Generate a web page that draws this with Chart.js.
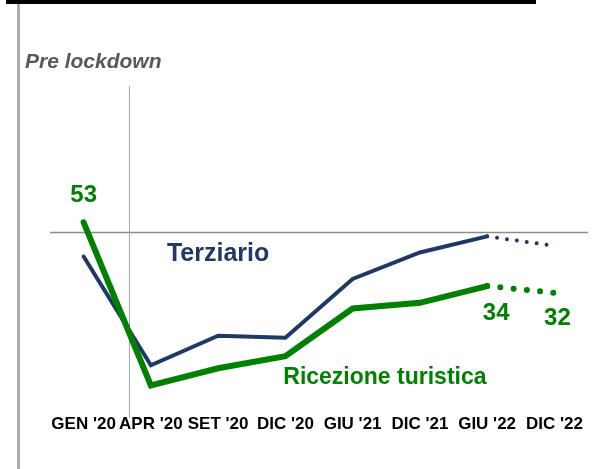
<!DOCTYPE html>
<html>
<head>
<meta charset="utf-8">
<script src="https://cdn.jsdelivr.net/npm/chart.js@4"></script>
<style>
  body { margin: 0; padding: 0; background: #fff; }
  #wrap { width: 600px; height: 469px; }
</style>
</head>
<body>
<div id="wrap"><canvas id="chart" width="600" height="469"></canvas></div>
<script>
// periods on the x axis
const categories = ["GEN '20", "APR '20", "SET '20", "DIC '20", "GIU '21", "DIC '21", "GIU '22", "DIC '22"];

// observed values (solid lines)
const terziario = [42.8, 10.4, 19.2, 18.6, 36.1, 44, 48.8, null];
const ricezione = [53, 4.4, 9.5, 13.1, 27.3, 29, 34, null];

// forecast values (dotted lines)
const terziarioForecast = [null, null, null, null, null, null, 48.8, 46];
const ricezioneForecast = [null, null, null, null, null, null, 34, 32];

// reference level before the lockdown
const preLockdownLevel = 50;
// position of the lockdown marker between GEN '20 and APR '20
const lockdownAt = 0.67;
// points of "Ricezione turistica" that get a value label
const labelledPoints = [0, 6, 7];

const NAVY = '#203864';
const GREEN = '#008000';
const FONT = "'Liberation Sans', Arial, sans-serif";

// background decorations + reference lines (drawn under the series)
const backdrop = {
  id: 'backdrop',
  beforeDatasetsDraw(chart) {
    const { ctx, chartArea, scales } = chart;
    const x = scales.x, y = scales.y;
    ctx.save();
    // black bar on top
    ctx.fillStyle = '#000';
    ctx.fillRect(6, 0, 530, 4);
    // grey rule on the left
    ctx.fillStyle = '#ababab';
    ctx.fillRect(17, 4, 3, 465);
    // "Pre lockdown"
    ctx.fillStyle = '#595959';
    ctx.font = 'italic bold 21px ' + FONT;
    ctx.textBaseline = 'alphabetic';
    ctx.fillText('Pre lockdown', 25, 68);
    // pre lockdown level
    const yl = Math.round(y.getPixelForValue(preLockdownLevel)) + 0.5;
    ctx.strokeStyle = '#8c8c8c';
    ctx.lineWidth = 1.5;
    ctx.beginPath();
    ctx.moveTo(chartArea.left, yl);
    ctx.lineTo(chartArea.right, yl);
    ctx.stroke();
    // lockdown marker
    const xl = Math.round(x.getPixelForValue(lockdownAt)) + 0.5;
    ctx.strokeStyle = '#97a9c8';
    ctx.lineWidth = 1;
    ctx.beginPath();
    ctx.moveTo(xl, chartArea.top);
    ctx.lineTo(xl, chartArea.bottom + 4);
    ctx.stroke();
    ctx.restore();
  }
};

// series names and value labels
const labels = {
  id: 'labels',
  afterDatasetsDraw(chart) {
    const { ctx, scales } = chart;
    const x = scales.x, y = scales.y;
    ctx.save();
    ctx.textAlign = 'center';
    ctx.textBaseline = 'middle';

    ctx.fillStyle = NAVY;
    ctx.font = 'bold 25px ' + FONT;
    ctx.fillText('Terziario', x.getPixelForValue(2), y.getPixelForValue(43.5));

    ctx.fillStyle = GREEN;
    ctx.font = 'bold 23px ' + FONT;
    ctx.fillText('Ricezione turistica', x.getPixelForValue(4.48), y.getPixelForValue(6.6));

    ctx.font = 'bold 24px ' + FONT;
    const shift = { 0: [0, -27], 6: [9, 27], 7: [3, 26] };
    labelledPoints.forEach(i => {
      const v = ricezione[i] != null ? ricezione[i] : ricezioneForecast[i];
      const [dx, dy] = shift[i];
      ctx.fillText(String(v), x.getPixelForValue(i) + dx, y.getPixelForValue(v) + dy);
    });
    ctx.restore();
  }
};

new Chart(document.getElementById('chart'), {
  type: 'line',
  data: {
    labels: categories,
    datasets: [
      {
        label: 'Ricezione turistica',
        data: ricezione,
        borderColor: GREEN,
        borderWidth: 6,
        borderCapStyle: 'round',
        pointRadius: 0,
        tension: 0
      },
      {
        label: 'Ricezione turistica (previsione)',
        data: ricezioneForecast,
        borderColor: GREEN,
        borderWidth: 6,
        borderCapStyle: 'round',
        borderDash: [0, 13.3],
        pointRadius: 0,
        tension: 0
      },
      {
        label: 'Terziario',
        data: terziario,
        borderColor: NAVY,
        borderWidth: 4,
        borderCapStyle: 'round',
        pointRadius: 0,
        tension: 0
      },
      {
        label: 'Terziario (previsione)',
        data: terziarioForecast,
        borderColor: NAVY,
        borderWidth: 4,
        borderCapStyle: 'round',
        borderDash: [0, 10],
        pointRadius: 0,
        tension: 0
      }
    ]
  },
  options: {
    responsive: false,
    animation: false,
    spanGaps: false,
    layout: { padding: { top: 86, left: 50, right: 12, bottom: 33 } },
    plugins: {
      legend: { display: false },
      tooltip: { enabled: false }
    },
    scales: {
      x: {
        offset: true,
        grid: { display: false, drawTicks: false },
        border: { display: false },
        ticks: {
          color: '#000',
          padding: 1,
          autoSkip: false,
          maxRotation: 0,
          font: { family: FONT, size: 17, weight: 'bold' }
        }
      },
      y: {
        display: false,
        min: -4,
        max: 93.6
      }
    }
  },
  plugins: [backdrop, labels]
});
</script>
</body>
</html>
